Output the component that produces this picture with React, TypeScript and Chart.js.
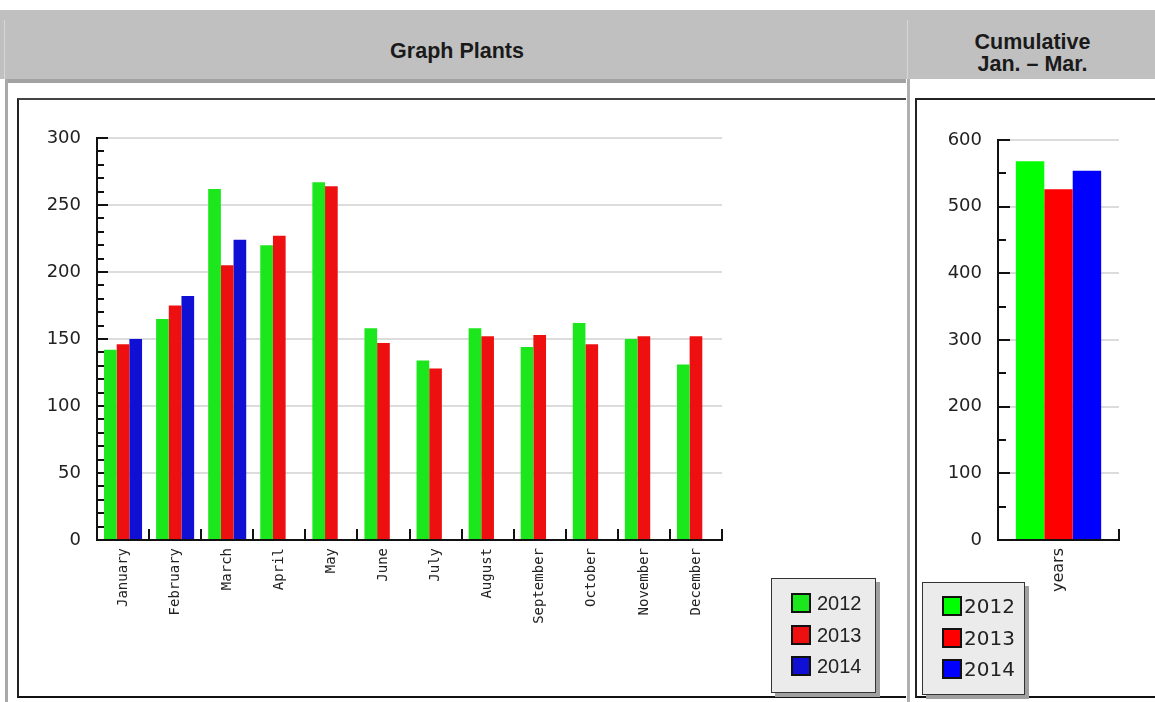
import React, { useEffect, useRef } from 'react';
import { Chart, registerables } from 'chart.js';

Chart.register(...registerables);

// ---------- data ----------
const months = ['January', 'February', 'March', 'April', 'May', 'June', 'July', 'August', 'September', 'October', 'November', 'December'];
const seriesNames = ['2012', '2013', '2014'];
const plants2012 = [142, 165, 262, 220, 267, 158, 134, 158, 144, 162, 150, 131];
const plants2013 = [146, 175, 205, 227, 264, 147, 128, 152, 153, 146, 152, 152];
const plants2014 = [150, 182, 224, null, null, null, null, null, null, null, null, null];
const cumulativeLabels = ['years'];
const cumulative2012 = [568];
const cumulative2013 = [526];
const cumulative2014 = [554];
const plantsAxis = { max: 300, major: 50, minor: 10 };
const cumulativeAxis = { max: 600, major: 100, minor: 50 };
const mainTitle = 'Graph Plants';
const sideTitle = ['Cumulative', 'Jan. \u2013 Mar.'];

// ---------- styles ----------
const plantColors = ['#1ce61c', '#ee1010', '#1010d4'];
const cumColors = ['#00ff00', '#ff0000', '#0000ff'];

function makeAxisMarks(o: { minorStep: number; majorStep: number; majorLen: number; minorLen: number; xTickLen: number }) {
  return {
    id: 'axisMarks',
    beforeDatasetsDraw(chart: any) {
      const { ctx, chartArea: a } = chart;
      const ys = chart.scales.y;
      const xs = chart.scales.x;
      ctx.save();
      ctx.strokeStyle = '#111';
      ctx.lineWidth = 2;
      const count = Math.round((ys.max - ys.min) / o.minorStep);
      for (let i = 0; i <= count; i++) {
        const v = ys.min + i * o.minorStep;
        const r = v / o.majorStep;
        const major = Math.abs(r - Math.round(r)) < 1e-6;
        const py = Math.round(ys.getPixelForValue(v));
        ctx.beginPath();
        ctx.moveTo(a.left, py);
        ctx.lineTo(a.left + (major ? o.majorLen : o.minorLen), py);
        ctx.stroke();
      }
      const n = xs.ticks.length;
      for (let i = 1; i <= n; i++) {
        const px = i < n ? (xs.getPixelForTick(i - 1) + xs.getPixelForTick(i)) / 2 : a.right;
        ctx.beginPath();
        ctx.moveTo(Math.round(px), a.bottom);
        ctx.lineTo(Math.round(px), a.bottom - o.xTickLen);
        ctx.stroke();
      }
      ctx.restore();
    },
  };
}

type BarProps = {
  width: number;
  height: number;
  labels: string[];
  series: (number | null)[][];
  colors: string[];
  axis: { max: number; major: number; minor: number };
  padding: { top: number; right: number };
  yWidth: number;
  xHeight: number;
  catPct: number;
  xFont: { family: string; size: number };
  yFont: { family: string; size: number };
  majorLen: number;
  minorLen: number;
};

function BarChart(p: BarProps) {
  const ref = useRef<HTMLCanvasElement | null>(null);
  useEffect(() => {
    if (!ref.current) return;
    const chart = new Chart(ref.current, {
      type: 'bar',
      data: {
        labels: p.labels,
        datasets: p.series.map((d, i) => ({
          label: seriesNames[i],
          data: d as any,
          backgroundColor: p.colors[i],
          borderWidth: 0,
          categoryPercentage: p.catPct,
          barPercentage: 1,
        })),
      },
      options: {
        animation: false,
        responsive: false,
        maintainAspectRatio: false,
        layout: { padding: { top: p.padding.top, right: p.padding.right, left: 0, bottom: 0 } },
        plugins: { legend: { display: false }, tooltip: { enabled: false } },
        scales: {
          x: {
            grid: { display: false, drawTicks: false },
            border: { display: true, color: '#111', width: 2 },
            ticks: {
              minRotation: 90,
              maxRotation: 90,
              autoSkip: false,
              padding: 8,
              color: '#222',
              font: p.xFont,
            },
            afterFit: (s: any) => {
              s.height = p.xHeight;
            },
          },
          y: {
            min: 0,
            max: p.axis.max,
            grid: { color: '#dcdcdc', lineWidth: 2, drawTicks: false },
            border: { display: true, color: '#111', width: 2 },
            ticks: { stepSize: p.axis.major, padding: 16, color: '#222', font: p.yFont },
            afterFit: (s: any) => {
              s.width = p.yWidth;
            },
          },
        },
      } as any,
      plugins: [
        makeAxisMarks({
          minorStep: p.axis.minor,
          majorStep: p.axis.major,
          majorLen: p.majorLen,
          minorLen: p.minorLen,
          xTickLen: 11,
        }) as any,
      ],
    });
    return () => chart.destroy();
  }, []);
  return <canvas ref={ref} width={p.width} height={p.height} style={{ width: p.width, height: p.height, display: 'block' }} />;
}

function Legend(props: { left: number; top: number; width: number; height: number; colors: string[]; font: string; swLeft: number; swTop: number; textLeft: number }) {
  return (
    <div
      style={{
        position: 'absolute',
        left: props.left,
        top: props.top,
        width: props.width,
        height: props.height,
        boxSizing: 'border-box',
        background: '#ebebeb',
        border: '1.5px solid #333',
        boxShadow: '4px 4px 0 #a0a0a0',
      }}
    >
      {seriesNames.map((name, i) => (
        <div key={name} style={{ position: 'absolute', left: props.swLeft, top: props.swTop + i * 31.5, height: 20, display: 'flex', alignItems: 'center' }}>
          <div style={{ width: 20, height: 20, boxSizing: 'border-box', border: '2px solid #111', background: props.colors[i] }} />
          <div style={{ position: 'absolute', left: props.textLeft, top: -2, font: props.font, color: '#222', lineHeight: '24px', whiteSpace: 'nowrap' }}>{name}</div>
        </div>
      ))}
    </div>
  );
}

export default function App() {
  const abs = (l: number, t: number, w: number, h: number, extra: any = {}) => ({ position: 'absolute' as const, left: l, top: t, width: w, height: h, ...extra });
  const headFont = 'bold 21.5px "Liberation Sans", Arial, sans-serif';
  return (
    <div style={{ position: 'absolute', left: 0, top: 0, width: 1155, height: 702, overflow: 'hidden', background: '#fff' }}>
      {/* header band */}
      <div style={abs(0, 10, 1155, 69, { background: '#c0c0c0' })} />
      <div style={abs(8, 79, 898, 4, { background: '#a2a2a2' })} />
      <div style={abs(4, 20, 1, 59, { background: '#d6d6d6' })} />
      <div style={abs(5, 79, 3, 623, { background: '#a9a9a9' })} />
      <div style={abs(907, 20, 1, 59, { background: '#d6d6d6' })} />
      <div style={abs(907, 79, 3, 623, { background: '#b0b0b0' })} />
      <div style={abs(8, 20, 898, 62, { display: 'flex', alignItems: 'center', justifyContent: 'center', font: headFont, color: '#1a1a1a' })}>{mainTitle}</div>
      <div style={abs(910, 20, 245, 66, { display: 'flex', flexDirection: 'column', alignItems: 'center', justifyContent: 'center', font: headFont, color: '#1a1a1a', lineHeight: '22px', textAlign: 'center' })}>
        {sideTitle.map((t) => (
          <div key={t}>{t}</div>
        ))}
      </div>

      {/* left chart box */}
      <div style={abs(17, 98, 889, 600, { boxSizing: 'border-box', borderLeft: '2px solid #222', borderTop: '2px solid #444', borderBottom: '2px solid #111', background: '#fff' })}>
        <BarChart
          width={886}
          height={596}
          labels={months}
          series={[plants2012, plants2013, plants2014]}
          colors={plantColors}
          axis={plantsAxis}
          padding={{ top: 38, right: 183 }}
          yWidth={78}
          xHeight={156}
          catPct={0.73}
          xFont={{ family: '"DejaVu Sans Mono", monospace', size: 14 }}
          yFont={{ family: '"DejaVu Sans", sans-serif', size: 18 }}
          majorLen={11}
          minorLen={7}
        />
      </div>
      <Legend left={771} top={578} width={105} height={115} colors={plantColors} font='20px "Liberation Sans", Arial, sans-serif' swLeft={19} swTop={14} textLeft={26} />

      {/* right chart box */}
      <div style={abs(915, 98, 240, 600, { boxSizing: 'border-box', borderLeft: '2px solid #222', borderTop: '2px solid #222', borderBottom: '2px solid #111', background: '#fff' })}>
        <BarChart
          width={238}
          height={596}
          labels={cumulativeLabels}
          series={[cumulative2012, cumulative2013, cumulative2014]}
          colors={cumColors}
          axis={cumulativeAxis}
          padding={{ top: 40, right: 36 }}
          yWidth={81}
          xHeight={156}
          catPct={0.705}
          xFont={{ family: '"DejaVu Sans", sans-serif', size: 16 }}
          yFont={{ family: '"DejaVu Sans", sans-serif', size: 18 }}
          majorLen={12}
          minorLen={8}
        />
      </div>
      <Legend left={922} top={582} width={103} height={113} colors={cumColors} font='20px "DejaVu Sans", sans-serif' swLeft={19} swTop={13} textLeft={22} />
    </div>
  );
}
